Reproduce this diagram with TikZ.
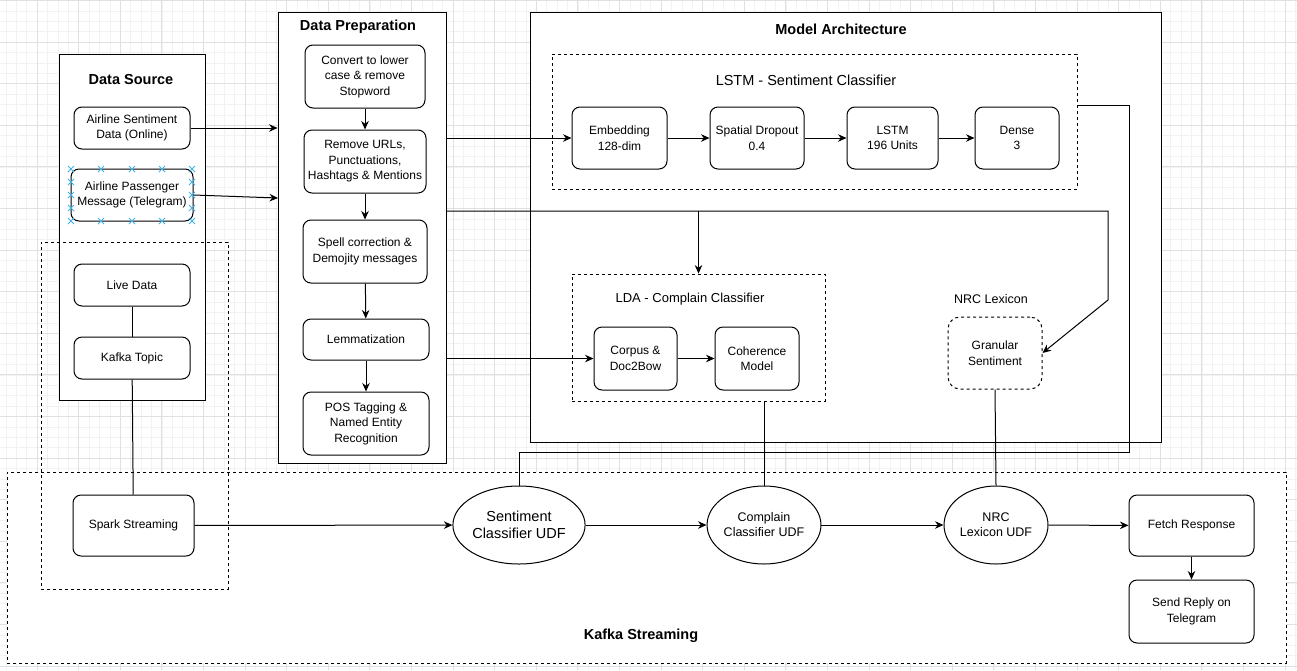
\documentclass[tikz,border=0pt]{standalone}
\usepackage{fontspec}
\setmainfont{Liberation Sans}
\usetikzlibrary{shapes.geometric, arrows.meta, positioning}
\definecolor{gridminor}{HTML}{F2F2F2}
\definecolor{gridmajor}{HTML}{E0E0E0}
\definecolor{handle}{HTML}{3FB4E8}

\begin{document}
\begin{tikzpicture}[x=1pt,y=-1pt,
  every node/.style={font=\fontsize{12}{15.5}\selectfont},
  box/.style={draw,rounded corners=8pt,align=center,fill=white,line width=1pt,inner sep=1pt},
  udf/.style={draw,ellipse,align=center,fill=white,line width=1pt,inner sep=0pt},
  container/.style={draw,fill=white,line width=0.9pt,inner sep=0pt},
  dashbox/.style={draw,dashed,line width=0.9pt,inner sep=0pt},
  heading/.style={font=\bfseries\fontsize{14.5}{17}\selectfont},
  arrow/.style={-{Stealth[length=8.5pt,width=7.5pt]},line width=1pt},
  link/.style={line width=1pt}]
  \useasboundingbox (0,0) rectangle (1297,670);
  \fill[white] (0,0) rectangle (1297,670);
  \foreach \i in {0,...,124} \draw[gridminor,line width=0.6pt] ({5.8+\i*10.4},0) -- ({5.8+\i*10.4},670);
  \foreach \j in {0,...,64} \draw[gridminor,line width=0.6pt] (0,{0.4+\j*10.4}) -- (1297,{0.4+\j*10.4});
  \foreach \i in {0,...,30} \draw[gridmajor,line width=0.8pt] ({37+\i*41.6},0) -- ({37+\i*41.6},670);
  \foreach \j in {0,...,16} \draw[gridmajor,line width=0.8pt] (0,{0.4+\j*41.6}) -- (1297,{0.4+\j*41.6});

  \node[container,dashed,minimum width=1279pt,minimum height=191pt] (kafka) at (646.5,567.5) {};
  \node[container,minimum width=146pt,minimum height=346pt] (dsrc) at (132,227) {};
  \node[container,minimum width=168pt,minimum height=451pt] (dprep) at (362,237.5) {};
  \node[container,minimum width=631pt,minimum height=430pt] (model) at (845.5,227) {};
  \node[dashbox,minimum width=187pt,minimum height=347pt] (livebox) at (134.5,415.5) {};
  \node[dashbox,minimum width=525pt,minimum height=135pt] (lstmbox) at (814.5,121.5) {};
  \node[dashbox,minimum width=253pt,minimum height=127pt] (lda) at (698.5,337.5) {};

  \node[heading] (dstitle) at (131,80) {Data Source};
  \node[heading] (preptitle) at (358,27) {Data Preparation};
  \node[heading] (modeltitle) at (841,29) {Model Architecture};
  \node[heading] (kafkatitle) at (641,636) {Kafka Streaming};
  \node[font=\fontsize{14.5}{17}\selectfont] (lstmtitle) at (806,80) {LSTM - Sentiment Classifier};
  \node[font=\fontsize{13}{15}\selectfont] (ldatitle) at (690,299) {LDA - Complain Classifier};
  \node[font=\fontsize{12.5}{15}\selectfont] (nrctitle) at (991,299) {NRC Lexicon};

  \node[box,minimum width=116pt,minimum height=42pt] (online) at (132,128) {Airline Sentiment\\Data (Online)};
  \node[box,minimum width=122pt,minimum height=52pt] (telegram) at (132,195) {Airline Passenger\\Message (Telegram)};
  \node[box,minimum width=116pt,minimum height=42pt] (live) at (132,285) {Live Data};
  \node[box,minimum width=116pt,minimum height=42pt] (ktopic) at (132,358) {Kafka Topic};
  \node[box,minimum width=121pt,minimum height=61pt] (spark) at (133.5,525.5) {Spark Streaming};

  \node[box,minimum width=120pt,minimum height=63pt] (convert) at (365,76.5) {Convert to lower\\case \& remove\\Stopword};
  \node[box,minimum width=122pt,minimum height=63pt] (urls) at (365,161.5) {Remove URLs,\\Punctuations,\\Hashtags \& Mentions};
  \node[box,minimum width=124pt,minimum height=63pt] (spell) at (365,251.5) {Spell correction \&\\Demojity messages};
  \node[box,minimum width=126pt,minimum height=41pt] (lemma) at (366,339.5) {Lemmatization};
  \node[box,minimum width=126pt,minimum height=63pt] (pos) at (366,423.5) {POS Tagging \&\\Named Entity\\Recognition};

  \node[box,minimum width=95pt,minimum height=62pt] (emb) at (619.5,138) {Embedding\\128-dim};
  \node[box,minimum width=94pt,minimum height=62pt,right=42pt of emb] (drop) {Spatial Dropout\\0.4};
  \node[box,minimum width=91pt,minimum height=62pt,right=42pt of drop] (lstm) {LSTM\\196 Units};
  \node[box,minimum width=84pt,minimum height=62pt,right=36pt of lstm] (dense) {Dense\\3};

  \node[box,minimum width=83pt,minimum height=63pt] (corpus) at (635.5,358.5) {Corpus \&\\Doc2Bow};
  \node[box,minimum width=84pt,minimum height=63pt,right=37pt of corpus] (coh) {Coherence\\Model};
  \node[box,dashed,rounded corners=12pt,minimum width=94pt,minimum height=72pt] (gran) at (995,353) {Granular\\Sentiment};

  \node[udf,font=\fontsize{14.5}{17}\selectfont,minimum width=122pt,minimum height=78pt] (sudf) at (519,525) {Sentiment\\Classifier UDF};
  \node[udf,font=\fontsize{12.5}{15}\selectfont,minimum width=110pt,minimum height=78pt] (cudf) at (764,525) {Complain\\Classifier UDF};
  \node[udf,font=\fontsize{12.5}{15}\selectfont,minimum width=104pt,minimum height=78pt] (nudf) at (996,525) {NRC\\Lexicon UDF};
  \node[box,minimum width=125pt,minimum height=61pt] (fetch) at (1191.5,525.5) {Fetch Response};
  \node[box,minimum width=125pt,minimum height=63pt,below=23pt of fetch] (send) {Send Reply on\\Telegram};

  \coordinate (tgin) at (278,198);
  \coordinate (prepout) at (446,211);
  \coordinate (bendr) at (1108,300);
  \coordinate (lstmout) at (1077,105);
  \coordinate (rback) at (1129,452);

  \draw[arrow] (online.east) -- (online.east -| dprep.west);
  \draw[arrow] (telegram.east) -- (tgin);
  \draw[link] (live) -- (ktopic);
  \draw[link] (ktopic) -- (spark);
  \foreach \a/\b in {convert/urls,urls/spell,spell/lemma,lemma/pos,emb/drop,drop/lstm,lstm/dense,corpus/coh,spark/sudf,sudf/cudf,cudf/nudf,nudf/fetch,fetch/send}
    \draw[arrow] (\a) -- (\b);
  \draw[arrow] (dprep.east |- emb.west) -- (emb.west);
  \draw[arrow] (dprep.east |- corpus.west) -- (corpus.west);
  \draw[arrow] (prepout) -| (bendr) -- (gran.east);
  \draw[arrow] (prepout -| lda.north) -- (lda.north);
  \draw[link] (lstmout) -| (rback) -| (sudf.north);
  \draw[link] (cudf.north |- lda.south) -- (cudf.north);
  \draw[link] (gran.south) -- (nudf.north);

  \foreach \hx in {71,101,132,162,192} \foreach \hy in {169,221}
    \draw[handle,line width=0.9pt] ({\hx-3},{\hy-3}) -- ({\hx+3},{\hy+3}) ({\hx-3},{\hy+3}) -- ({\hx+3},{\hy-3});
  \foreach \hx in {71,192} \foreach \hy in {182,195,208}
    \draw[handle,line width=0.9pt] ({\hx-3},{\hy-3}) -- ({\hx+3},{\hy+3}) ({\hx-3},{\hy+3}) -- ({\hx+3},{\hy-3});
\end{tikzpicture}
\end{document}
